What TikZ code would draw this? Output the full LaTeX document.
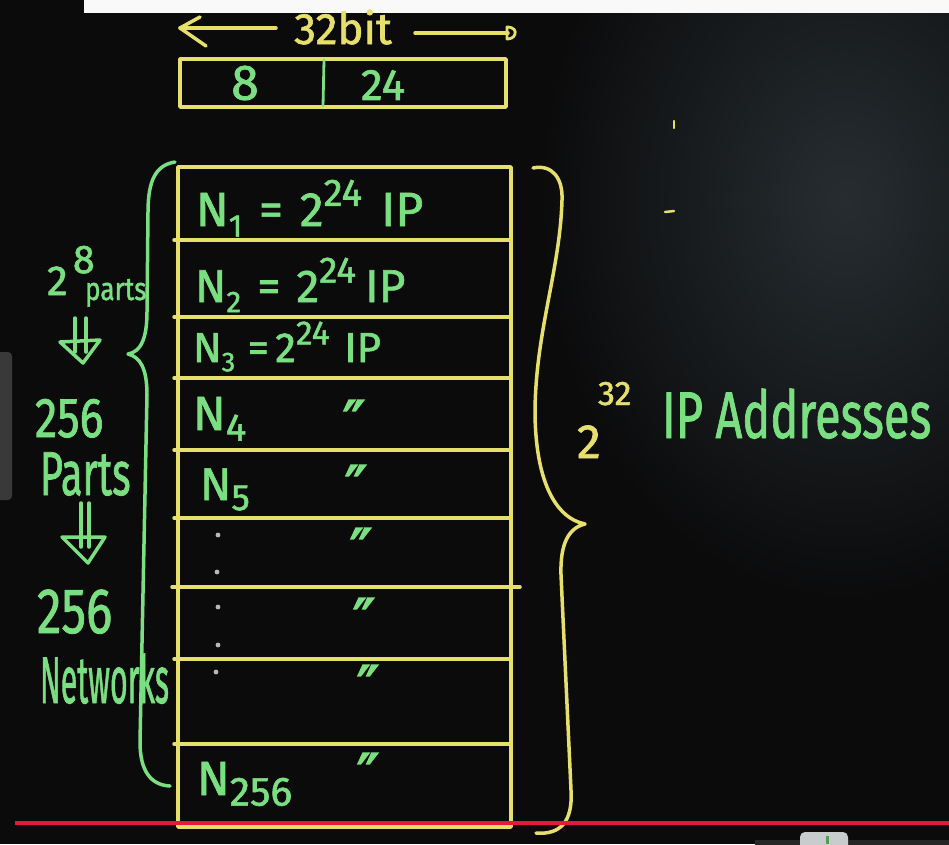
\documentclass[tikz,border=0pt]{standalone}
\usepackage{fontspec}
\setmainfont{Fira Sans}[FakeBold=1.4]
\newfontfamily\dittofont{DejaVu Sans}[FakeBold=2.5]
\definecolor{bg}{HTML}{0B0B0C}
\definecolor{glow}{HTML}{262D31}
\definecolor{chalkY}{HTML}{E6DF6C}
\definecolor{chalkG}{HTML}{7ADF80}
\definecolor{redline}{HTML}{E8173C}
\definecolor{dotc}{HTML}{B8B8B8}
\definecolor{tabgray}{HTML}{C8CCCC}
\newcommand\hsup[1]{\raisebox{0.42em}{\scalebox{0.8}{#1}}}
\newcommand\hsub[2][0.65]{\raisebox{-0.22em}{\scalebox{#1}{#2}}}
\begin{document}
\begin{tikzpicture}[x=1pt,y=-1pt,
  yline/.style={draw=chalkY, line width=3.5pt, line cap=round, line join=round},
  gline/.style={draw=chalkG, line width=3.5pt, line cap=round, line join=round},
  gtext/.style={text=chalkG, inner sep=0pt, outer sep=0pt},
  ytext/.style={text=chalkY, inner sep=0pt, outer sep=0pt},
  rowtext/.style={gtext, anchor=base west},
  ditto/.style={gtext, anchor=north, font=\dittofont\fontsize{60}{60}\selectfont},
]
\useasboundingbox (0,0) rectangle (949,844);
\clip (0,0) rectangle (949,844);
% background
\fill[bg] (0,0) rectangle (949,844);
\shade[inner color=glow, outer color=bg] (540,-200) rectangle (1150,600);
\fill[white!95!gray] (84,-2) rectangle (951,13);
\fill[gray!45!black, rounded corners=4pt] (-6,352) rectangle (12,500);
\fill[gray!30!black] (755,840) rectangle (951,846);
\fill[tabgray, rounded corners=5pt] (800,832) rectangle (848,850);
\fill[chalkG!70!black] (826,836) rectangle (829,844);

% top: 32 bit arrow
\node[ytext, anchor=base, font=\fontsize{44}{44}\selectfont] (bits) at (343,44) {32bit};
\coordinate (lstart) at (276,28);
\coordinate (lend) at (180,28);
\coordinate (rstart) at (415,33);
\coordinate (rend) at (508,33);
\draw[yline] (lstart) -- (lend);
\draw[yline] (200,17) -- (lend) -- (206,46);
\draw[yline] (rstart) -- (rend);
\draw[yline, line width=2.8pt] (507,27) .. controls (514,27) and (516,31) .. (515,34) .. controls (514,38) and (510,39) .. (507,39) -- cycle;

% top box 8 | 24
\draw[yline] (180,59) rectangle (506,107);
\draw[gline, line width=2.8pt] (324,60) -- (323,106);
\node[gtext, font=\fontsize{50}{50}\selectfont] (eight) at (245,83) {8};
\node[gtext, font=\fontsize{44}{44}\selectfont] (twentyfour) at (383,85) {24};

% main table
\draw[yline] (178,167) rectangle (511,827);
\foreach \yy in {240,317,378,450,518,659,744}
  \draw[yline] (174,\yy) -- (511,\yy);
\draw[yline] (172,587) -- (520,587);

% row texts
\node[rowtext, font=\fontsize{48}{48}\selectfont] (n1) at (196,226)
  {N\hsub{1}\hspace{0.35em}=\hspace{0.35em}2\hsup{24}\hspace{0.4em}IP};
\node[rowtext, font=\fontsize{46}{46}\selectfont] (n2) at (195,302)
  {N\hsub{2}\hspace{0.35em}=\hspace{0.35em}2\hsup{24}\hspace{0.2em}IP};
\node[rowtext, font=\fontsize{42}{42}\selectfont] (n3) at (193,362)
  {N\hsub{3}\hspace{0.3em}=\hspace{0.15em}2\hsup{24}\hspace{0.35em}IP};
\node[rowtext, font=\fontsize{48}{48}\selectfont] (n4) at (193,430) {N\hsub[0.8]{4}};
\node[rowtext, font=\fontsize{46}{46}\selectfont] (n5) at (200,500) {N\hsub[0.8]{5}};
\node[rowtext, font=\fontsize{48}{48}\selectfont] (n256) at (197,795) {N\hsub[0.85]{256}};

% ditto marks
\node[ditto] (d4) at (354,400) {″};
\node[ditto] (d5) at (356,465) {″};
\node[ditto] (d6) at (361,528) {″};
\node[ditto] (d7) at (364,598) {″};
\node[ditto] (d8) at (368,665) {″};
\node[ditto] (d9) at (368,753) {″};

% dots
\foreach \px/\py in {218/535,217/572,218/607,218/645,216/672}
  \fill[dotc] (\px,\py) circle (2.4pt);

% left green brace
\draw[gline] (175,162) .. controls (156,165) and (148,180) .. (148,212)
  -- (147,312) .. controls (147,340) and (140,352) .. (128,354)
  .. controls (140,357) and (147,368) .. (147,395)
  -- (140,742) .. controls (140,770) and (150,785) .. (170,786);

% right yellow brace
\draw[yline] (533,168) .. controls (552,164) and (563,178) .. (562,200)
  .. controls (560,270) and (536,330) .. (535,410)
  .. controls (535,480) and (555,518) .. (585,524)
  .. controls (568,528) and (560,545) .. (561,575)
  -- (571,790) .. controls (573,822) and (560,835) .. (536,833);

% left labels
\node[gtext, anchor=base west, font=\fontsize{42}{42}\selectfont] (twoeight) at (47,295)
  {2\hspace{5pt}\raisebox{22pt}{\fontsize{40}{40}\selectfont 8}};
\node[gtext, anchor=base west, font=\fontsize{32}{32}\selectfont] (partsA) at (85,300)
  {\scalebox{0.82}[1]{parts}};
\draw[gline] (75,318) -- (75,352);
\draw[gline] (86,318) -- (86,352);
\draw[gline] (60,342) -- (100,340) -- (83,363) -- cycle;

\node[gtext, anchor=base west, font=\fontsize{56}{56}\selectfont] (num1) at (35,437)
  {\scalebox{0.8}[1]{256}};
\node[gtext, anchor=base west, font=\fontsize{62}{62}\selectfont] (partsB) at (40,495)
  {\scalebox{0.64}[1]{Parts}};
\draw[gline] (81,503) -- (81,547);
\draw[gline] (89,503) -- (89,547);
\draw[gline] (62,537) -- (105,537) -- (88,563) -- cycle;

\node[gtext, anchor=base west, font=\fontsize{64}{64}\selectfont] (num2) at (37,633)
  {\scalebox{0.77}[1]{256}};
\node[gtext, anchor=base west, font=\fontsize{66}{66}\selectfont] (networks) at (40,703)
  {\scalebox{0.46}[1]{Networks}};

% right labels
\node[ytext, anchor=base west, font=\fontsize{48}{48}\selectfont] (twoY) at (577,458) {2};
\node[ytext, anchor=base west, font=\fontsize{34}{34}\selectfont] (thirtytwo) at (598,405) {32};
\node[gtext, anchor=base west, font=\fontsize{66}{66}\selectfont] (ipaddr) at (662,438)
  {\scalebox{0.71}[1]{IP Addresses}};

% small marks
\draw[yline, line width=2.5pt] (674,121) -- (674,128);
\draw[yline, line width=2.5pt] (665,212) -- (674,211);

% red line
\draw[redline, line width=4pt] (15,823) -- (951,823);
\end{tikzpicture}
\end{document}
